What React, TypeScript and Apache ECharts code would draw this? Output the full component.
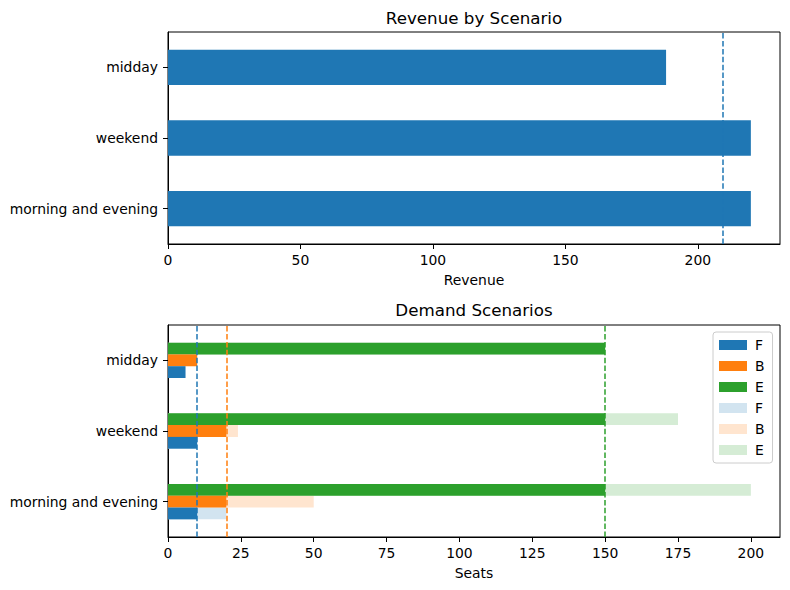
import React, { useEffect, useRef } from 'react';
import * as echarts from 'echarts';

const scenarios = ['morning and evening', 'weekend', 'midday'];
const revenue = [220, 220, 188];
const revenueMean = 209.33;
const soldF = [10, 10, 6];
const soldB = [20, 20, 10];
const soldE = [150, 150, 150];
const demandF = [20, 10, 6];
const demandB = [50, 24, 10];
const demandE = [200, 175, 150];
const capF = 10;
const capB = 20;
const capE = 150;
const legendNames = ['F', 'B', 'E', 'F ', 'B ', 'E '];

const FONT = 'DejaVu Sans';
const C_BLUE = '#1f77b4';
const C_ORANGE = '#ff7f0e';
const C_GREEN = '#2ca02c';
const L_BLUE = '#d2e4f0';
const L_ORANGE = '#ffe5cf';
const L_GREEN = '#d5ecd5';

function vline(value: number, color: string) {
  return {
    silent: true,
    symbol: 'none',
    label: { show: false },
    lineStyle: { color, type: [5.5, 2.4], width: 1.5 },
    data: [{ xAxis: value }],
  };
}

export default function App() {
  const ref = useRef<HTMLDivElement>(null);
  useEffect(() => {
    if (!ref.current) return;
    const chart = echarts.init(ref.current, undefined, { renderer: 'svg' });
    const axisText = { color: '#000', fontFamily: FONT, fontSize: 13.9 };
    const valueAxis = (gridIndex: number, max: number, interval: number, name: string) => ({
      type: 'value',
      gridIndex,
      min: 0,
      max,
      interval,
      name,
      nameLocation: 'middle',
      nameGap: 29,
      nameTextStyle: { ...axisText },
      axisLine: { show: true, lineStyle: { color: '#000', width: 1 } },
      axisTick: { show: true, length: 5, lineStyle: { color: '#000' } },
      axisLabel: { ...axisText, margin: 9, showMaxLabel: false },
      splitLine: { show: false },
    });
    const catAxis = (gridIndex: number, show = true) => ({
      type: 'category',
      gridIndex,
      data: scenarios,
      show,
      axisLine: { show: true, lineStyle: { color: '#000', width: 1 } },
      axisTick: { show: true, alignWithLabel: true, length: 5, lineStyle: { color: '#000' } },
      axisLabel: { ...axisText, margin: 10 },
    });
    const barCommon = { barGap: '0%', barCategoryGap: '50%', xAxisIndex: 1 };
    chart.setOption({
      animation: false,
      backgroundColor: '#fff',
      textStyle: { fontFamily: FONT },
      grid: [
        { left: 168, top: 32, width: 612, height: 212, show: true, borderColor: '#000', borderWidth: 1, backgroundColor: 'transparent' },
        { left: 168, top: 325, width: 612, height: 212, show: true, borderColor: '#000', borderWidth: 1, backgroundColor: 'transparent' },
      ],
      xAxis: [valueAxis(0, 231, 50, 'Revenue'), valueAxis(1, 210, 25, 'Seats')],
      yAxis: [catAxis(0), catAxis(1), catAxis(1, false)],
      legend: {
        data: legendNames,
        orient: 'vertical',
        left: 713,
        top: 332,
        itemWidth: 28,
        itemHeight: 10,
        itemGap: 7,
        padding: [6, 8, 6, 6],
        icon: 'rect',
        borderColor: '#cccccc',
        borderWidth: 1,
        borderRadius: 3,
        backgroundColor: 'rgba(255,255,255,0.8)',
        textStyle: { color: '#000', fontFamily: FONT, fontSize: 13.9, padding: [0, 0, 0, 3] },
        formatter: (n: string) => n.trim(),
      },
      graphic: [
        { type: 'text', x: 474, y: 18, style: { text: 'Revenue by Scenario', align: 'center', verticalAlign: 'middle', font: `16.7px "${FONT}"`, fill: '#000' } },
        { type: 'text', x: 474, y: 310, style: { text: 'Demand Scenarios', align: 'center', verticalAlign: 'middle', font: `16.7px "${FONT}"`, fill: '#000' } },
      ],
      series: [
        {
          type: 'bar', name: 'Revenue', xAxisIndex: 0, yAxisIndex: 0, data: revenue,
          barCategoryGap: '50%', itemStyle: { color: C_BLUE },
          markLine: vline(revenueMean, C_BLUE),
        },
        { type: 'bar', name: 'E ', yAxisIndex: 2, data: demandE, itemStyle: { color: L_GREEN }, z: 1, ...barCommon },
        { type: 'bar', name: 'B ', yAxisIndex: 2, data: demandB, itemStyle: { color: L_ORANGE }, z: 1, ...barCommon },
        { type: 'bar', name: 'F ', yAxisIndex: 2, data: demandF, itemStyle: { color: L_BLUE }, z: 1, ...barCommon },
        { type: 'bar', name: 'E', yAxisIndex: 1, data: soldE, itemStyle: { color: C_GREEN }, z: 3, markLine: vline(capE, C_GREEN), ...barCommon },
        { type: 'bar', name: 'B', yAxisIndex: 1, data: soldB, itemStyle: { color: C_ORANGE }, z: 3, markLine: vline(capB, C_ORANGE), ...barCommon },
        { type: 'bar', name: 'F', yAxisIndex: 1, data: soldF, itemStyle: { color: C_BLUE }, z: 3, markLine: vline(capF, C_BLUE), ...barCommon },
      ],
    });
    return () => chart.dispose();
  }, []);
  return <div ref={ref} style={{ position: 'absolute', left: 0, top: 0, width: 790, height: 590 }} />;
}
